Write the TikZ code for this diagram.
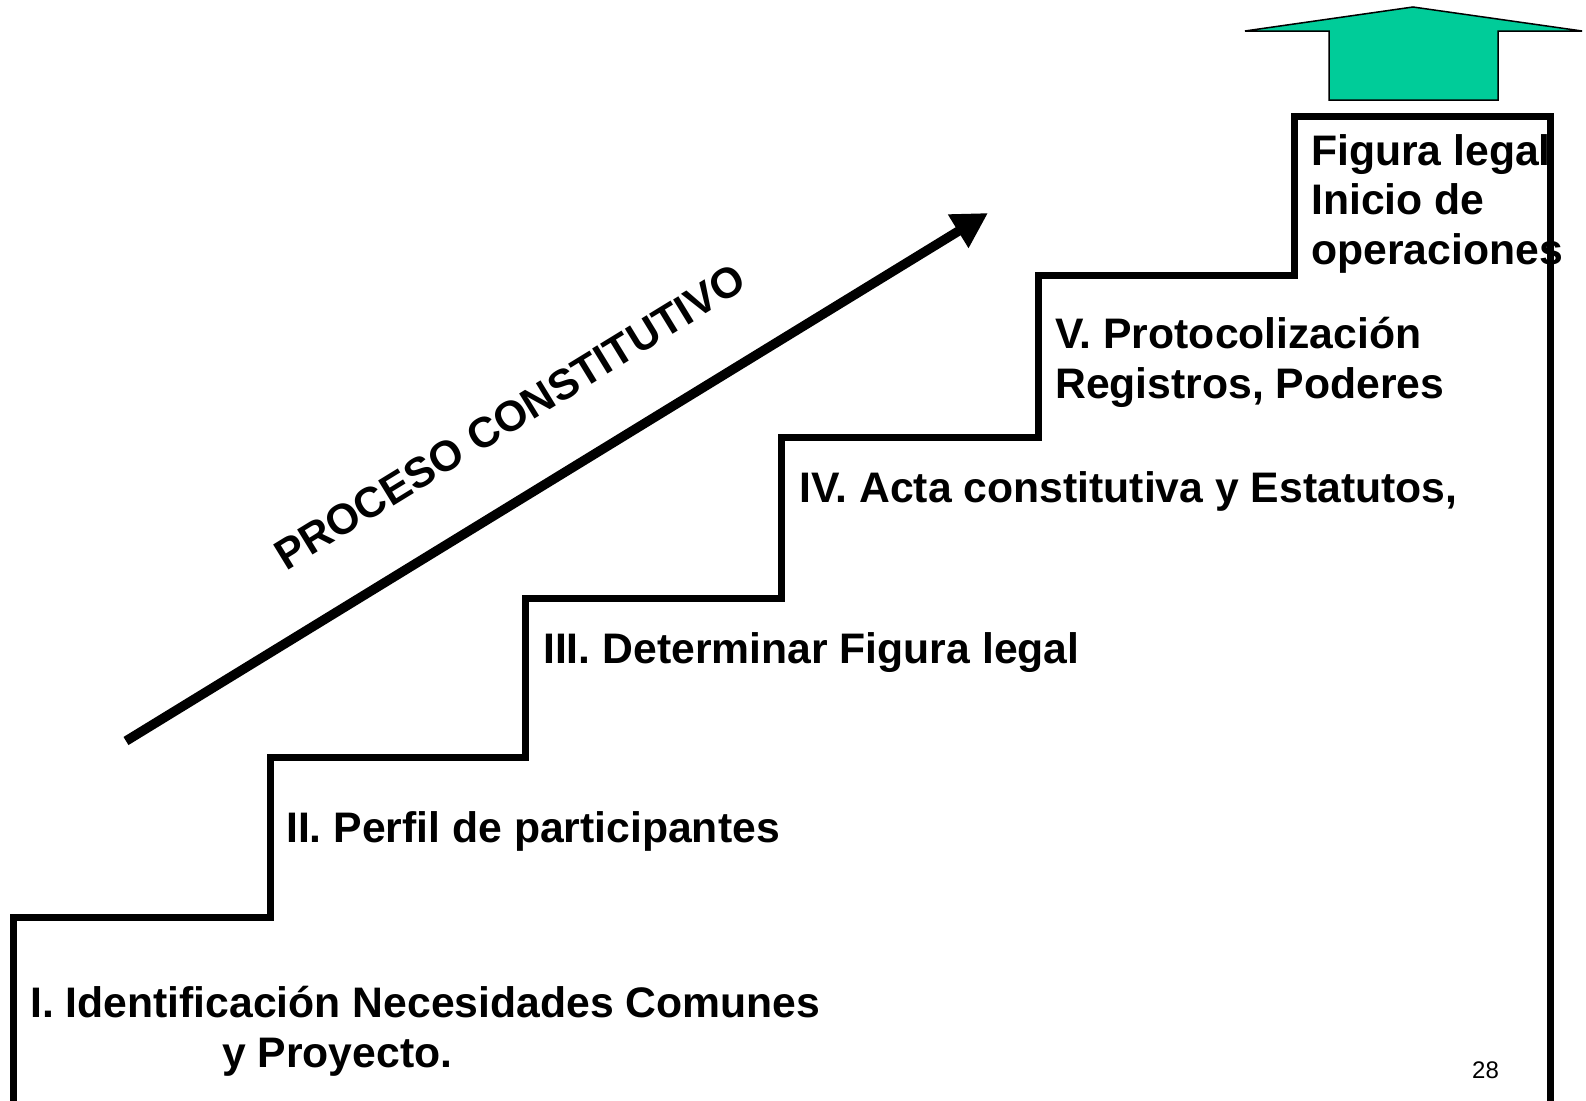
\documentclass[tikz,border=0pt]{standalone}
\usepackage{fontspec}
\setmainfont{Liberation Sans}
\usetikzlibrary{arrows.meta}
\definecolor{upgreen}{RGB}{0,204,153}
\tikzset{
  lbl/.style={anchor=base west, inner sep=0pt, font=\fontsize{42.7}{49}\selectfont\bfseries},
  stair/.style={line width=7pt, line join=miter, line cap=rect},
}
\begin{document}
\begin{tikzpicture}[x=1pt,y=-1pt]
\useasboundingbox (0,0) rectangle (1586,1100);
% labels
\node[lbl] (s1a) at (30,1017) {I. Identificación Necesidades Comunes};
\node[lbl] (s1b) at (222,1067) {y Proyecto.};
\node[lbl] (s2) at (286,842) {II. Perfil de participantes};
\node[lbl] (s3) at (543,663) {III. Determinar Figura legal};
\node[lbl] (s4) at (799,502) {IV. Acta constitutiva y Estatutos,};
\node[lbl] (s5a) at (1055,348) {V. Protocolización};
\node[lbl] (s5b) at (1055,398) {Registros, Poderes};
\node[lbl] (s6a) at (1311,165) {Figura legal};
\node[lbl] (s6b) at (1311,214) {Inicio de};
\node[lbl] (s6c) at (1311,264) {operaciones};
\node[anchor=base west, inner sep=0pt, font=\fontsize{24}{28}\selectfont] (pg) at (1472,1078) {28};
% staircase
\draw[stair] (13,1104) -- (13,917) -- (270,917) -- (270,757) -- (525,757) -- (525,598)
  -- (781,598) -- (781,437) -- (1038,437) -- (1038,275) -- (1294,275) -- (1294,116)
  -- (1550,116) -- (1550,1104);
% big process arrow
\coordinate (a0) at (126,741);
\coordinate (a1) at (988,213);
\draw[line width=9.5pt, -{Triangle[length=35pt,width=37pt]}] (a0) -- (a1);
\node[inner sep=0pt, rotate=31.5, font=\fontsize{42.7}{49}\selectfont\bfseries] (proc) at (510,417) {PROCESO CONSTITUTIVO};
% green up arrow
\draw[fill=upgreen, draw=black, line width=1.5pt, line join=miter]
  (1413,7) -- (1582,31) -- (1498,31) -- (1498,100) -- (1329,100) -- (1329,31) -- (1245,31) -- cycle;
\end{tikzpicture}
\end{document}
